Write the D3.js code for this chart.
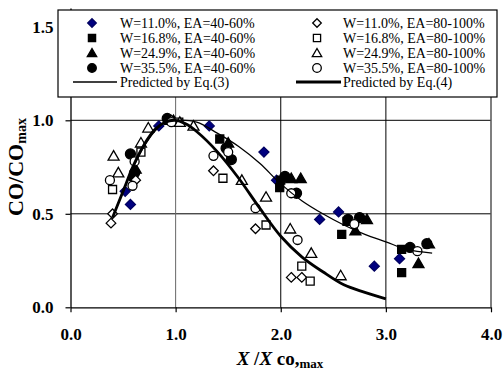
<!DOCTYPE html>
<html><head><meta charset="utf-8">
<script src="https://cdn.jsdelivr.net/npm/d3@7"></script>
<style>body{margin:0;background:#fff}svg{display:block}</style>
</head><body><svg id="c" width="504" height="371"></svg>
<script>
// Data (x = X/Xco,max, y = CO/COmax)
const fillDiamond = [[0.52,0.62],[0.57,0.55],[0.84,0.97],[1.32,0.97],[1.84,0.83],[1.96,0.68],[2.37,0.47],[2.55,0.51],[2.89,0.22],[3.13,0.26]];
const fillSquare = [[0.60,0.70],[0.93,1.0],[1.42,0.90],[1.99,0.64],[2.0,0.68],[2.58,0.39],[2.63,0.46],[3.15,0.185],[3.15,0.31]];
const fillTriangle = [[0.62,0.74],[0.98,1.0],[1.50,0.88],[2.10,0.69],[2.19,0.69],[2.71,0.41],[2.82,0.47],[3.31,0.235],[3.41,0.34]];
const fillCircle = [[0.57,0.82],[0.61,0.72],[0.92,1.01],[1.48,0.85],[1.53,0.79],[2.04,0.70],[2.15,0.61],[2.64,0.47],[2.75,0.48],[3.23,0.32],[3.39,0.34]];
const openDiamond = [[0.385,0.45],[0.40,0.50],[0.62,0.68],[0.96,1.0],[1.36,0.73],[1.76,0.42],[2.10,0.16],[2.20,0.16]];
const openSquare = [[0.40,0.63],[0.67,0.83],[1.03,0.99],[1.45,0.69],[1.86,0.44],[2.20,0.22],[2.28,0.14]];
const openTriangle = [[0.41,0.81],[0.455,0.72],[0.67,0.88],[0.74,0.96],[1.04,0.99],[1.17,0.97],[1.63,0.68],[1.86,0.59],[2.09,0.42],[2.29,0.29],[2.57,0.17]];
const openCircle = [[0.375,0.68],[0.59,0.65],[0.61,0.78],[0.96,0.99],[1.36,0.81],[1.50,0.83],[1.76,0.53],[2.10,0.61],[2.16,0.36],[2.70,0.445],[3.30,0.30]];
const eq3 = [[0.4,0.48],[0.5,0.62],[0.6,0.75],[0.7,0.86],[0.8,0.94],[0.9,0.99],[1.0,1.0],[1.2,0.99],[1.4,0.93],[1.6,0.86],[1.8,0.77],[2.0,0.66],[2.2,0.57],[2.4,0.50],[2.6,0.44],[2.8,0.39],[3.0,0.35],[3.2,0.31],[3.44,0.29]];
const eq4 = [[0.4,0.48],[0.5,0.62],[0.6,0.76],[0.7,0.87],[0.8,0.95],[0.9,0.99],[1.0,1.0],[1.1,0.98],[1.2,0.94],[1.4,0.83],[1.6,0.69],[1.8,0.53],[2.0,0.38],[2.2,0.27],[2.4,0.19],[2.6,0.12],[2.8,0.08],[3.0,0.045]];
const xTicks = [0,1,2,3,4];
const yTicks = [0,0.5,1.0,1.5];
const legendLabels = ["W=11.0%, EA=40-60%","W=16.8%, EA=40-60%","W=24.9%, EA=40-60%","W=35.5%, EA=40-60%",
  "W=11.0%, EA=80-100%","W=16.8%, EA=80-100%","W=24.9%, EA=80-100%","W=35.5%, EA=80-100%",
  "Predicted by Eq.(3)","Predicted by Eq.(4)"];

const svg = d3.select("#c");
const x = d3.scaleLinear().domain([0,4]).range([70.5,491]);
const y = d3.scaleLinear().domain([0,1.6]).range([307.3,8.1]);
const serif = "Liberation Serif, DejaVu Serif, serif";

function shapePath(kind, r){
  if(kind==="diamond") return `M0,${-r}L${r},0L0,${r}L${-r},0Z`;
  if(kind==="square") return `M${-r},${-r}H${r}V${r}H${-r}Z`;
  if(kind==="triangle") return `M0,${-r*1.05}L${r*1.1},${r*0.85}L${-r*1.1},${r*0.85}Z`;
  return d3.arc()({innerRadius:0,outerRadius:r,startAngle:0,endAngle:2*Math.PI});
}

// grid
const g = svg.append("g");
g.selectAll("line.hg").data([0.5,1.0,1.5]).join("line")
  .attr("x1",x(0)).attr("x2",x(4)).attr("y1",d=>y(d)).attr("y2",d=>y(d)).attr("stroke","#000").attr("stroke-width",1);
g.selectAll("line.vg").data([1,2,3]).join("line")
  .attr("x1",d=>x(d)).attr("x2",d=>x(d)).attr("y1",y(0)).attr("y2",y(1.58)).attr("stroke",d=>d===1?"#666":"#000").attr("stroke-width",1);
// right border
g.append("line").attr("x1",x(4)).attr("x2",x(4)).attr("y1",y(0)).attr("y2",y(1.58)).attr("stroke","#555").attr("stroke-width",1.5);

// axes
const ya = svg.append("g").attr("transform",`translate(${x(0)},0)`)
  .call(d3.axisLeft(y).tickValues(yTicks).tickSize(5).tickSizeOuter(0).tickPadding(12).tickFormat(d3.format(".1f")));
const xa = svg.append("g").attr("transform",`translate(0,${y(0)})`)
  .call(d3.axisBottom(x).tickValues(xTicks).tickSize(5).tickSizeOuter(0).tickPadding(16).tickFormat(d3.format(".1f")));
[ya,xa].forEach(a=>{
  a.attr("font-family",serif);
  a.select(".domain").attr("stroke","#000").attr("stroke-width",1.3);
  a.selectAll(".tick line").attr("stroke","#000").attr("stroke-width",1.2);
  a.selectAll("text").attr("font-family",serif).attr("font-size",17).attr("font-weight","bold").attr("fill","#000");
});

// markers
const series = [
  {d:fillDiamond,k:"diamond",fill:"#000080",stroke:"#000060",r:5},
  {d:fillSquare,k:"square",fill:"#000",stroke:"#000",r:4},
  {d:fillTriangle,k:"triangle",fill:"#000",stroke:"#000",r:5},
  {d:fillCircle,k:"circle",fill:"#000",stroke:"#000",r:5},
  {d:openDiamond,k:"diamond",fill:"#fff",stroke:"#000",r:4.8},
  {d:openSquare,k:"square",fill:"#fff",stroke:"#000",r:4},
  {d:openTriangle,k:"triangle",fill:"#fff",stroke:"#000",r:5},
  {d:openCircle,k:"circle",fill:"#fff",stroke:"#000",r:4.5}
];
series.forEach(s=>{
  svg.append("g").selectAll("path").data(s.d).join("path")
    .attr("transform",d=>`translate(${x(d[0])},${y(d[1])})`)
    .attr("d",shapePath(s.k,s.r)).attr("fill",s.fill).attr("stroke",s.stroke).attr("stroke-width",1.3);
});

// model lines
const line = d3.line().x(d=>x(d[0])).y(d=>y(d[1])).curve(d3.curveCatmullRom);
svg.append("path").attr("d",line(eq3)).attr("fill","none").attr("stroke","#000").attr("stroke-width",1.3);
svg.append("path").attr("d",line(eq4)).attr("fill","none").attr("stroke","#000").attr("stroke-width",2.8);

// legend
const lg = svg.append("g").attr("font-family",serif);
lg.append("rect").attr("x",58).attr("y",10).attr("width",439).attr("height",87).attr("fill","#fff").attr("stroke","#000").attr("stroke-width",1.2);
const rowsY = [23,38,53,68];
series.forEach((s,i)=>{
  const cx = i<4?92:317, cy = rowsY[i%4];
  lg.append("path").attr("transform",`translate(${cx},${cy})`).attr("d",shapePath(s.k,s.k==="square"?3.6:4.3))
    .attr("fill",s.fill).attr("stroke",s.stroke).attr("stroke-width",1.3);
  lg.append("text").attr("x",i<4?120:343).attr("y",cy+5).text(legendLabels[i])
    .attr("font-size",14).attr("fill","#000");
});
lg.append("line").attr("x1",73).attr("x2",117).attr("y1",82).attr("y2",82).attr("stroke","#000").attr("stroke-width",1.3);
lg.append("line").attr("x1",296).attr("x2",341).attr("y1",82).attr("y2",82).attr("stroke","#000").attr("stroke-width",2.8);
lg.append("text").attr("x",120).attr("y",87).text(legendLabels[8]).attr("font-size",14);
lg.append("text").attr("x",343).attr("y",87).text(legendLabels[9]).attr("font-size",14);

// axis titles
const xt = svg.append("text").attr("x",280).attr("y",365).attr("text-anchor","middle")
  .attr("font-family",serif).attr("font-weight","bold").attr("font-size",19);
xt.append("tspan").attr("font-style","italic").text("X");
xt.append("tspan").text(" /");
xt.append("tspan").attr("font-style","italic").text("X");
xt.append("tspan").text(" co,");
xt.append("tspan").attr("font-size",13).attr("dy",3).text("max");

const yt = svg.append("text").attr("transform","translate(23,167) rotate(-90)").attr("text-anchor","middle")
  .attr("font-family",serif).attr("font-weight","bold").attr("font-size",22);
yt.append("tspan").text("CO/CO");
yt.append("tspan").attr("font-size",14).attr("dy",3).text("max");
</script></body></html>
